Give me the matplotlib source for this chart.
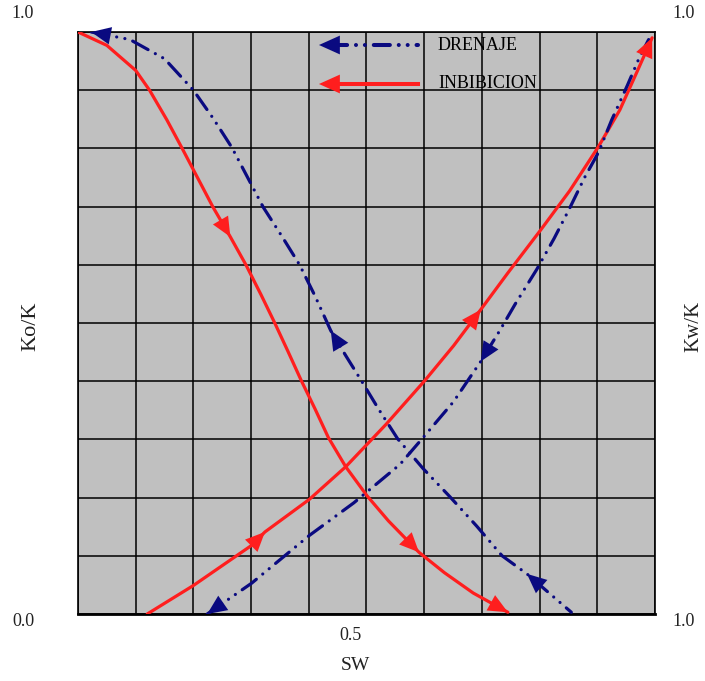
import matplotlib
matplotlib.use('Agg')
import matplotlib.pyplot as plt
import numpy as np

plt.rcParams['font.family'] = ['Liberation Serif', 'DejaVu Serif']

# ---- data ----
# Imbibition (red) Ko/K
sw_ko_imb = [0.0, 0.050, 0.100, 0.124, 0.154, 0.180, 0.207, 0.234, 0.264, 0.291,
             0.317, 0.341, 0.364, 0.387, 0.411, 0.434, 0.464, 0.501, 0.538, 0.591,
             0.635, 0.685, 0.745]
ko_imb = [1.0, 0.977, 0.934, 0.900, 0.849, 0.801, 0.750, 0.699, 0.648, 0.600,
          0.549, 0.500, 0.451, 0.401, 0.352, 0.303, 0.253, 0.203, 0.160, 0.106,
          0.071, 0.036, 0.003]

# Drainage (blue) Ko/K
sw_ko_dre = [0.023, 0.090, 0.150, 0.200, 0.234, 0.267, 0.294, 0.321, 0.354, 0.384,
             0.411, 0.438, 0.464, 0.491, 0.521, 0.554, 0.598, 0.645, 0.691, 0.735,
             0.778, 0.855]
ko_dre = [1.0, 0.987, 0.954, 0.900, 0.852, 0.801, 0.750, 0.699, 0.648, 0.600,
          0.546, 0.487, 0.444, 0.401, 0.352, 0.301, 0.250, 0.201, 0.151, 0.100,
          0.069, 0.003]

# Imbibition (red) Kw/K
sw_kw_imb = [0.120, 0.200, 0.301, 0.324, 0.401, 0.464, 0.534, 0.601, 0.651, 0.698,
             0.745, 0.802, 0.852, 0.902, 0.939, 0.969, 0.995]
kw_imb = [0.0, 0.049, 0.118, 0.141, 0.197, 0.253, 0.326, 0.401, 0.461, 0.523,
          0.586, 0.660, 0.727, 0.803, 0.866, 0.932, 0.990]

# Drainage (blue) Kw/K
sw_kw_dre = [0.224, 0.301, 0.401, 0.478, 0.558, 0.598, 0.651, 0.698, 0.731, 0.758,
             0.795, 0.825, 0.852, 0.878, 0.902, 0.925, 0.952, 0.972, 0.989]
kw_dre = [0.0, 0.053, 0.135, 0.191, 0.257, 0.303, 0.365, 0.434, 0.487, 0.533,
          0.592, 0.645, 0.697, 0.750, 0.793, 0.849, 0.908, 0.954, 0.987]

legend_labels = ['DRENAJE', 'INBIBICION']
y_label_left = 'Ko/K'
y_label_right = 'Kw/K'
x_label = 'SW'

RED = '#ff1e1e'
BLUE = '#0a0a80'
LW = 2.3
DASH = (0, (5.5, 2.6, 0.01, 2.6, 0.01, 2.6))
HEAD = '-|>,head_length=1.0,head_width=0.45'

W, H = 705, 681
fig = plt.figure(figsize=(W / 100, H / 100), dpi=100)
ax = fig.add_axes([78 / W, 1 - 614 / H, 577 / W, 582 / H])
ax.set_facecolor('#c0c0c0')
ax.set_xlim(0, 1)
ax.set_ylim(0, 1)
ax.set_xticks(np.linspace(0, 1, 11))
ax.set_yticks(np.linspace(0, 1, 11))
ax.tick_params(length=0, labelbottom=False, labelleft=False)
ax.grid(True, color='black', lw=1.1)
ax.set_axisbelow(True)
for s in ax.spines.values():
    s.set_color('black')
    s.set_linewidth(1.2)
ax.spines['bottom'].set_linewidth(2.0)


def arrow(xs, ys, i_from, i_to, color, scale=14):
    ax.annotate('', xy=(xs[i_to], ys[i_to]), xytext=(xs[i_from], ys[i_from]),
                arrowprops=dict(arrowstyle=HEAD, color=color, lw=0.01,
                                mutation_scale=scale, shrinkA=0, shrinkB=0),
                zorder=5)


# red curves
ax.plot(sw_ko_imb, ko_imb, color=RED, lw=LW, solid_capstyle='round',
        solid_joinstyle='round', zorder=3)
ax.plot(sw_kw_imb, kw_imb, color=RED, lw=LW, solid_capstyle='round',
        solid_joinstyle='round', zorder=3)
# blue curves
ax.plot(sw_ko_dre, ko_dre, color=BLUE, lw=LW, linestyle=DASH,
        dash_capstyle='round', zorder=4)
ax.plot(sw_kw_dre, kw_dre, color=BLUE, lw=LW, linestyle=DASH,
        dash_capstyle='round', zorder=4)

# arrows on red Ko (downwards)
arrow(sw_ko_imb, ko_imb, 7, 8, RED)
arrow(sw_ko_imb, ko_imb, 18, 19, RED)
arrow(sw_ko_imb, ko_imb, 21, 22, RED)
# arrows on red Kw (upwards)
arrow(sw_kw_imb, kw_imb, 2, 3, RED)
arrow(sw_kw_imb, kw_imb, 8, 9, RED)
arrow(sw_kw_imb, kw_imb, 15, 16, RED)
# arrows on blue Ko (towards upper-left)
arrow(sw_ko_dre, ko_dre, 21, 20, BLUE)
arrow(sw_ko_dre, ko_dre, 12, 11, BLUE)
arrow(sw_ko_dre, ko_dre, 1, 0, BLUE)
# arrows on blue Kw (towards lower-left)
arrow(sw_kw_dre, kw_dre, 8, 7, BLUE)
arrow(sw_kw_dre, kw_dre, 1, 0, BLUE)

# legend (drawn inside plot)
leg_y = [(614 - 45) / 582, (614 - 84) / 582]
lx0, lx1 = (319 - 78) / 577, (418 - 78) / 577
tx = (438 - 78) / 577
ax.plot([lx0 + 0.02, lx1], [leg_y[0]] * 2, transform=ax.transAxes, color=BLUE,
        lw=LW + 0.6, linestyle=(0, (4.0, 2.2, 0.01, 2.2, 0.01, 2.2)),
        dash_capstyle='round', zorder=6, clip_on=False)
ax.plot([lx0 + 0.02, lx1], [leg_y[1]] * 2, transform=ax.transAxes, color=RED,
        lw=LW + 0.6, zorder=6, clip_on=False)
for yy, c in zip(leg_y, [BLUE, RED]):
    ax.annotate('', xy=(lx0, yy), xytext=(lx0 + 0.05, yy), xycoords='axes fraction',
                arrowprops=dict(arrowstyle=HEAD, color=c, lw=0.01,
                                mutation_scale=15, shrinkA=0, shrinkB=0),
                zorder=7)
for yy, lab in zip(leg_y, legend_labels):
    ax.text(tx, yy, lab, transform=ax.transAxes, fontsize=13, va='center',
            ha='left', color='black', zorder=7)


# tick-like labels and axis titles
def ftext(px, py, s, **kw):
    fig.text(px / W, 1 - py / H, s, ha='center', va='center', color='#222222', **kw)


ftext(23, 622, '0.0', fontsize=13)
ftext(684, 622, '1.0', fontsize=13)
ftext(23, 14, '1.0', fontsize=13)
ftext(684, 14, '1.0', fontsize=13)
ftext(351, 636, '0.5', fontsize=13)
ftext(355, 666, x_label, fontsize=14)
ftext(31, 326, y_label_left, fontsize=16, rotation=90)
ftext(694, 326, y_label_right, fontsize=15, rotation=90)

fig.savefig('out.png', dpi=100)
